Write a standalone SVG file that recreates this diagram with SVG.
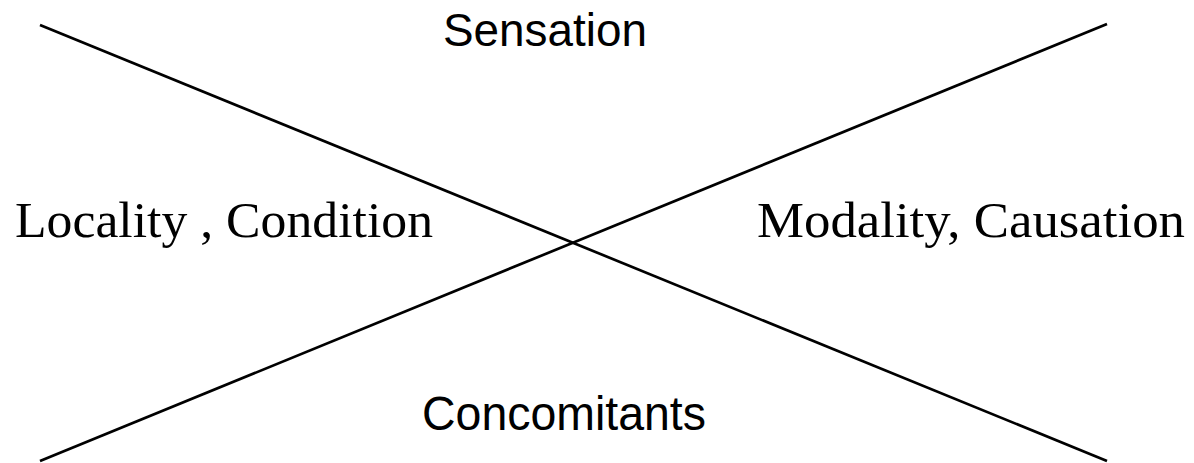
<svg xmlns="http://www.w3.org/2000/svg" width="1194" height="463" viewBox="0 0 1194 463">
<style>
.ln{stroke:#000;stroke-width:2.7;fill:none}
.sans{font-family:"Liberation Sans",Arial,sans-serif;fill:#000}
.serif{font-family:"Liberation Serif","Times New Roman",serif;fill:#000}
</style>
<rect width="1194" height="463" fill="#fff"/>
<g id="connectors">
<line class="ln" x1="40" y1="25" x2="1107" y2="461"/>
<line class="ln" x1="1107" y1="24" x2="40" y2="461"/>
</g>
<g id="sensation"><text class="sans" x="443" y="46" font-size="46" textLength="204" lengthAdjust="spacingAndGlyphs">Sensation</text></g>
<g id="locality"><text class="serif" x="15" y="237" font-size="51" textLength="418" lengthAdjust="spacingAndGlyphs">Locality , Condition</text></g>
<g id="modality"><text class="serif" x="757" y="237" font-size="51" textLength="428" lengthAdjust="spacingAndGlyphs">Modality, Causation</text></g>
<g id="concomitants"><text class="sans" x="422" y="430" font-size="48" textLength="284" lengthAdjust="spacingAndGlyphs">Concomitants</text></g>
</svg>
